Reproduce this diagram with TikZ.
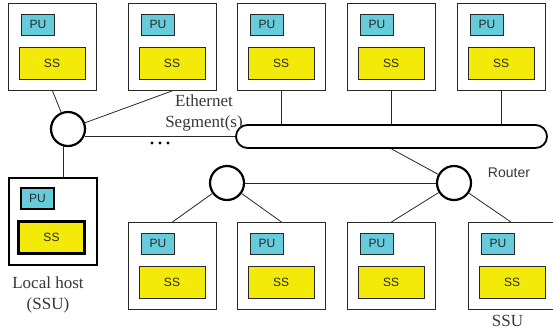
\documentclass[tikz,border=0pt]{standalone}
\usepackage{fontspec}
\setmainfont{Liberation Serif}
\setsansfont{Liberation Sans}
\usetikzlibrary{calc}
\definecolor{pucol}{RGB}{102,204,220}
\definecolor{sscol}{RGB}{243,234,10}
\definecolor{ink}{RGB}{40,40,40}
\definecolor{txt}{RGB}{55,55,55}
\tikzset{
  hostbox/.style={draw=ink, line width=0.8pt, minimum height=87pt, inner sep=0pt, anchor=north west},
  pubox/.style={draw=ink, fill=pucol, line width=0.8pt, minimum width=33pt, minimum height=21pt, inner sep=0pt,
    text=ink, font=\sffamily\fontsize{12}{12}\selectfont},
  ssbox/.style={draw=ink, fill=sscol, line width=0.8pt, minimum width=66pt, minimum height=32pt, inner sep=0pt,
    text=ink, font=\sffamily\fontsize{12}{12}\selectfont},
  boldbox/.style={line width=2.2pt, draw=black},
  plain/.style={},
  hub/.style={circle, draw=black, line width=2.2pt, minimum size=34pt, inner sep=0pt},
  link/.style={draw=ink, line width=0.8pt},
  seriflabel/.style={text=txt, align=center, inner sep=0pt, font=\rmfamily\fontsize{17}{21}\selectfont},
  sanslabel/.style={text=txt, inner sep=0pt, font=\sffamily\fontsize{14}{14}\selectfont},
}
% #1 name, #2 left x, #3 top y, #4 width, #5 extra style
\newcommand\hostunit[5]{%
  \node[hostbox, minimum width=#4pt, #5] (#1) at (#2,#3) {};
  \node[pubox, #5] (#1pu) at ({#2+30},{#3+21.5}) {PU};
  \node[ssbox, #5] (#1ss) at ({#2+44},{#3+60.5}) {SS};
}
\begin{document}
\begin{tikzpicture}[x=1pt,y=-1pt]
\useasboundingbox (0,0) rectangle (553,333);
% top row
\hostunit{t1}{8}{3}{88}{plain}
\hostunit{t2}{128}{3}{88}{plain}
\hostunit{t3}{237}{3}{88}{plain}
\hostunit{t4}{347}{3}{88}{plain}
\hostunit{t5}{457}{3}{88}{plain}
% bottom row
\hostunit{b1}{128}{222}{88}{plain}
\hostunit{b2}{237}{222}{88}{plain}
\hostunit{b3}{347}{222}{88}{plain}
\hostunit{b4}{468}{222}{85}{plain}
% local host
\hostunit{lh}{7.5}{177}{88.5}{boldbox}
% hubs
\node[hub] (hub1) at (68,129) {};
\node[hub] (hub2) at (227,183) {};
\node[hub] (router) at (454,183) {};
% bus
\node[draw=black, line width=1.8pt, rounded corners=11.5pt, minimum width=311pt, minimum height=23pt, inner sep=0pt]
  (bus) at (391.5,136.5) {};
% connectors
\draw[link] (t1.south) -- (hub1);
\draw[link] (t2.south) -- (hub1);
\draw[link] (hub1.-24) -- (hub1.-24 -| bus.west);
\draw[link] (hub1.-105) -- (hub1.-105 |- lh.north);
\draw[link] (t3.south) -- (t3.south |- bus.north);
\draw[link] (t4.south) -- (t4.south |- bus.north);
\draw[link] (t5.south) -- (t5.south |- bus.north);
\draw[link] (bus.south) -- (router);
\draw[link] (hub2) -- (router);
\draw[link] (hub2) -- (b1.north);
\draw[link] (hub2) -- (b2.north);
\draw[link] (router) -- (b3.north);
\draw[link] (router) -- (b4.north);
% dots
\fill[black] (152,143) circle (1.6pt);
\fill[black] (160,143) circle (1.6pt);
\fill[black] (168,143) circle (1.6pt);
% labels
\node[seriflabel] (eth) at (204,113) {Ethernet\\Segment(s)};
\node[seriflabel] (lhlabel) at (48,295) {Local host\\(SSU)};
\node[seriflabel] (ssulabel) at (507.5,321) {SSU};
\node[sanslabel] (routerlabel) at (509,173) {Router};
\end{tikzpicture}
\end{document}
